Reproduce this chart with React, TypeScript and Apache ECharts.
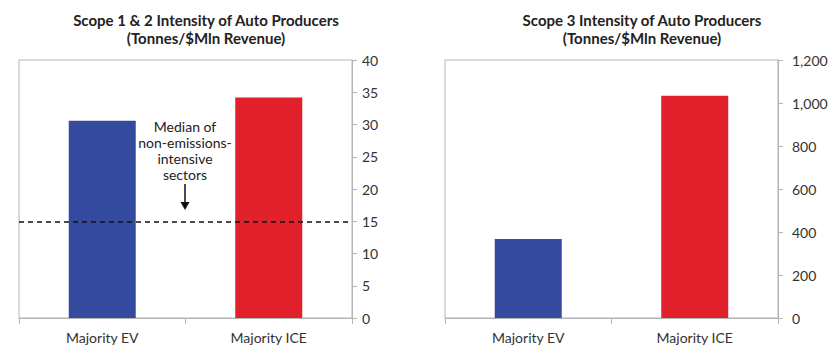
import React, { useEffect, useRef } from "react";
import * as echarts from "echarts";

const categories = ["Majority EV", "Majority ICE"];
const scope12Values = [30.6, 34.2];
const scope3Values = [367, 1034];
const medianNonEmissions = 15;
const scope12Ticks = { min: 0, max: 40, interval: 5 };
const scope3Ticks = { min: 0, max: 1200, interval: 200 };
const barColors = ["#344a9f", "#e0202a"];
const titleLines = [
  ["Scope 1 & 2 Intensity of Auto Producers", "(Tonnes/$Mln Revenue)"],
  ["Scope 3 Intensity of Auto Producers", "(Tonnes/$Mln Revenue)"],
];
const annotation = "Median of\nnon-emissions-\nintensive\nsectors";

const FONT = "Lato, 'Open Sans', sans-serif";
const AXIS_GRAY = "#b4b4b4";

export default function App() {
  const ref = useRef<HTMLDivElement>(null);
  useEffect(() => {
    if (!ref.current) return;
    const chart = echarts.init(ref.current, undefined, { renderer: "svg" });
    const xAxisBase = (gridIndex: number) => ({
      type: "category" as const,
      gridIndex,
      data: categories,
      axisLine: { show: true, lineStyle: { color: AXIS_GRAY, width: 1 } },
      axisTick: { show: true, length: 6, lineStyle: { color: AXIS_GRAY } },
      axisLabel: { color: "#333", fontSize: 14, fontFamily: FONT, margin: 12 },
    });
    const yAxisBase = (gridIndex: number, t: { min: number; max: number; interval: number }, margin: number) => ({
      type: "value" as const,
      gridIndex,
      position: "right" as const,
      min: t.min,
      max: t.max,
      interval: t.interval,
      splitLine: { show: false },
      axisLine: { show: true, lineStyle: { color: AXIS_GRAY, width: 1 } },
      axisTick: { show: true, length: 5, lineStyle: { color: AXIS_GRAY } },
      axisLabel: { color: "#333", fontSize: 14, fontFamily: FONT, margin },
    });
    const titleStyle = { fontSize: 15, fontWeight: "bold" as const, fontFamily: FONT, color: "#222", lineHeight: 16 };
    const centers = [201, 637];
    const titles: any[] = [];
    titleLines.forEach((lines, ci) => {
      lines.forEach((line, li) => {
        titles.push({
          text: line,
          left: centers[ci],
          top: 7 + li * 18,
          textAlign: "center",
          padding: 5,
          textStyle: titleStyle,
        });
      });
    });
    chart.setOption({
      animation: false,
      title: titles,
      grid: [
        { left: 19, top: 60, width: 333, height: 258, show: true, borderColor: AXIS_GRAY, borderWidth: 1, backgroundColor: "transparent" },
        { left: 445, top: 60, width: 333, height: 258, show: true, borderColor: AXIS_GRAY, borderWidth: 1, backgroundColor: "transparent" },
      ],
      xAxis: [xAxisBase(0), xAxisBase(1)],
      yAxis: [yAxisBase(0, scope12Ticks, 10), yAxisBase(1, scope3Ticks, 14)],
      series: [
        {
          type: "bar",
          xAxisIndex: 0,
          yAxisIndex: 0,
          barWidth: 67,
          data: scope12Values.map((v, i) => ({ value: v, itemStyle: { color: barColors[i] } })),
          markLine: {
            silent: true,
            symbol: ["none", "none"],
            label: { show: false },
            lineStyle: { color: "#111", type: [5, 4], width: 1.5 },
            data: [{ yAxis: medianNonEmissions }],
          },
        },
        {
          type: "bar",
          xAxisIndex: 1,
          yAxisIndex: 1,
          barWidth: 67,
          data: scope3Values.map((v, i) => ({ value: v, itemStyle: { color: barColors[i] } })),
        },
      ],
      graphic: [
        {
          type: "text",
          x: 185,
          y: 118,
          style: {
            text: annotation,
            fill: "#222",
            fontSize: 14,
            fontFamily: FONT,
            textAlign: "center",
            textVerticalAlign: "top",
            lineHeight: 16,
          },
        },
        {
          type: "line",
          shape: { x1: 185, y1: 184, x2: 185, y2: 204 },
          style: { stroke: "#111", lineWidth: 1.5 },
        },
        {
          type: "polygon",
          shape: { points: [[180.5, 202], [189.5, 202], [185, 210]] },
          style: { fill: "#111" },
        },
      ],
    });
    return () => chart.dispose();
  }, []);
  return (
    <div
      ref={ref}
      style={{ position: "absolute", left: 0, top: 0, width: 840, height: 357, background: "#fff" }}
    />
  );
}
